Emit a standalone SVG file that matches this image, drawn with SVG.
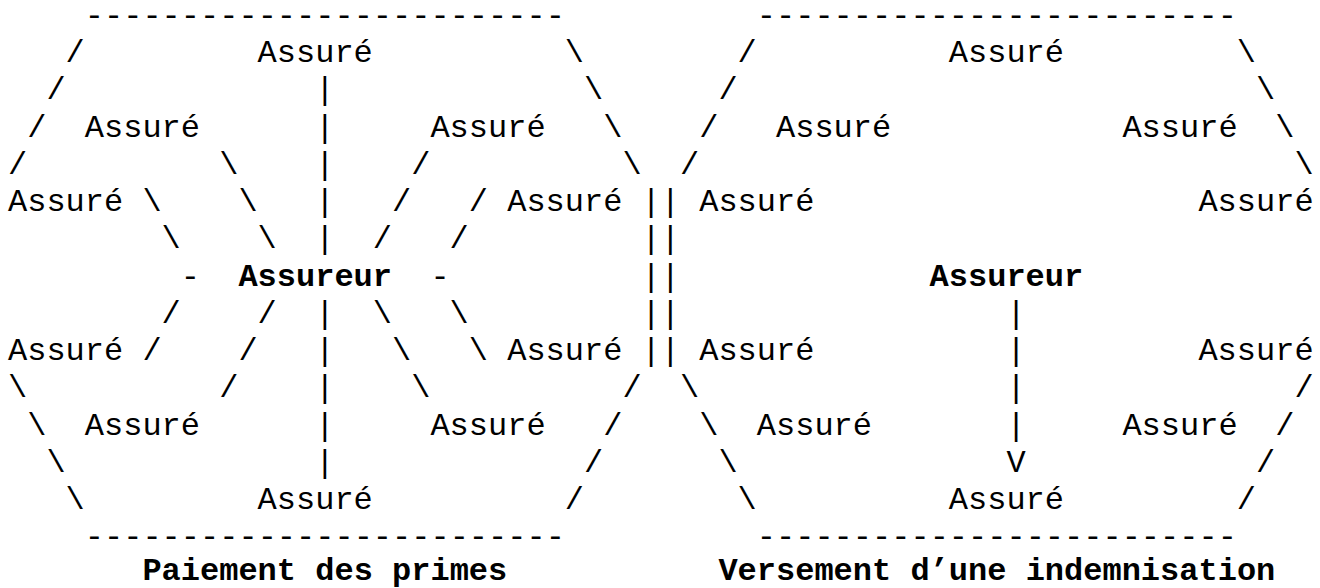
<svg xmlns="http://www.w3.org/2000/svg" width="1320" height="588" viewBox="0 0 1320 588">
  <style>
    text { font-family: "Courier New", "Nimbus Mono PS", "Nimbus Mono L", FreeMono, Courier, "Liberation Mono", monospace; font-size: 32px; fill: #000; }
    .b { font-weight: bold; }
  </style>
  <rect width="1320" height="588" fill="#fff"/>

  <!-- Monospace grid: x = 8 + 19.2*col, baseline y = 24.75 + 37.25*(row-1) -->

  <!-- Left panel: premium payments, every insured paying the insurer -->
  <g id="pay-insurer"><text class="b" x="238.4" y="285.5">Assureur</text></g>
  <g id="pay-top"><text x="257.6" y="62">Assuré</text></g>
  <g id="pay-upper-left"><text x="84.8" y="136.5">Assuré</text></g>
  <g id="pay-upper-right"><text x="430.4" y="136.5">Assuré</text></g>
  <g id="pay-mid-left-top"><text x="8" y="211">Assuré</text></g>
  <g id="pay-mid-right-top"><text x="507.2" y="211">Assuré</text></g>
  <g id="pay-mid-left-bottom"><text x="8" y="360">Assuré</text></g>
  <g id="pay-mid-right-bottom"><text x="507.2" y="360">Assuré</text></g>
  <g id="pay-lower-left"><text x="84.8" y="434.5">Assuré</text></g>
  <g id="pay-lower-right"><text x="430.4" y="434.5">Assuré</text></g>
  <g id="pay-bottom"><text x="257.6" y="509">Assuré</text></g>

  <!-- Right panel: a claim paid out to one insured -->
  <g id="claim-insurer"><text class="b" x="929.6" y="285.5">Assureur</text></g>
  <g id="claim-top"><text x="948.8" y="62">Assuré</text></g>
  <g id="claim-upper-left"><text x="776" y="136.5">Assuré</text></g>
  <g id="claim-upper-right"><text x="1122.4" y="136.5">Assuré</text></g>
  <g id="claim-mid-left-top"><text x="699.2" y="211">Assuré</text></g>
  <g id="claim-mid-right-top"><text x="1198.4" y="211">Assuré</text></g>
  <g id="claim-mid-left-bottom"><text x="699.2" y="360">Assuré</text></g>
  <g id="claim-mid-right-bottom"><text x="1198.4" y="360">Assuré</text></g>
  <g id="claim-lower-left"><text x="756.8" y="434.5">Assuré</text></g>
  <g id="claim-lower-right"><text x="1122.4" y="434.5">Assuré</text></g>
  <g id="claim-bottom"><text x="948.8" y="509">Assuré</text></g>

  <!-- Hexagon outlines and the double bar between them -->
  <g id="frames">
    <text x="84.8" y="24.75">-------------------------</text>
    <text x="756.8" y="24.75">-------------------------</text>
    <text x="84.8" y="546.25">-------------------------</text>
    <text x="756.8" y="546.25">-------------------------</text>
    <!-- left hexagon sides -->
    <text x="65.6" y="62">/</text>
    <text x="46.4" y="99.25">/</text>
    <text x="27.2" y="136.5">/</text>
    <text x="8" y="173.75">/</text>
    <text x="8" y="397.25">\</text>
    <text x="27.2" y="434.5">\</text>
    <text x="46.4" y="471.75">\</text>
    <text x="65.6" y="509">\</text>
    <text x="564.8" y="62">\</text>
    <text x="584" y="99.25">\</text>
    <text x="603.2" y="136.5">\</text>
    <text x="622.4" y="173.75">\</text>
    <text x="622.4" y="397.25">/</text>
    <text x="603.2" y="434.5">/</text>
    <text x="584" y="471.75">/</text>
    <text x="564.8" y="509">/</text>
    <!-- right hexagon sides -->
    <text x="737.6" y="62">/</text>
    <text x="718.4" y="99.25">/</text>
    <text x="699.2" y="136.5">/</text>
    <text x="680" y="173.75">/</text>
    <text x="680" y="397.25">\</text>
    <text x="699.2" y="434.5">\</text>
    <text x="718.4" y="471.75">\</text>
    <text x="737.6" y="509">\</text>
    <text x="1236.8" y="62">\</text>
    <text x="1256" y="99.25">\</text>
    <text x="1275.2" y="136.5">\</text>
    <text x="1294.4" y="173.75">\</text>
    <text x="1294.4" y="397.25">/</text>
    <text x="1275.2" y="434.5">/</text>
    <text x="1256" y="471.75">/</text>
    <text x="1236.8" y="509">/</text>
    <!-- divider -->
    <text x="641.6" y="211">||</text>
    <text x="641.6" y="248.25">||</text>
    <text x="641.6" y="285.5">||</text>
    <text x="641.6" y="322.75">||</text>
    <text x="641.6" y="360">||</text>
  </g>

  <!-- Spokes between insurer and insured -->
  <g id="connectors">
    <!-- left panel: vertical spoke -->
    <text x="315.2" y="99.25">|</text>
    <text x="315.2" y="136.5">|</text>
    <text x="315.2" y="173.75">|</text>
    <text x="315.2" y="211">|</text>
    <text x="315.2" y="248.25">|</text>
    <text x="315.2" y="322.75">|</text>
    <text x="315.2" y="360">|</text>
    <text x="315.2" y="397.25">|</text>
    <text x="315.2" y="434.5">|</text>
    <text x="315.2" y="471.75">|</text>
    <!-- left panel: upper-left spoke -->
    <text x="219.2" y="173.75">\</text>
    <text x="238.4" y="211">\</text>
    <text x="257.6" y="248.25">\</text>
    <!-- left panel: mid-left-top spoke -->
    <text x="142.4" y="211">\</text>
    <text x="161.6" y="248.25">\</text>
    <!-- left panel: upper-right spoke -->
    <text x="411.2" y="173.75">/</text>
    <text x="392" y="211">/</text>
    <text x="372.8" y="248.25">/</text>
    <!-- left panel: mid-right-top spoke -->
    <text x="468.8" y="211">/</text>
    <text x="449.6" y="248.25">/</text>
    <!-- left panel: horizontal stubs -->
    <text x="180.8" y="285.5">-</text>
    <text x="430.4" y="285.5">-</text>
    <!-- left panel: lower spokes -->
    <text x="161.6" y="322.75">/</text>
    <text x="142.4" y="360">/</text>
    <text x="257.6" y="322.75">/</text>
    <text x="238.4" y="360">/</text>
    <text x="219.2" y="397.25">/</text>
    <text x="372.8" y="322.75">\</text>
    <text x="392" y="360">\</text>
    <text x="411.2" y="397.25">\</text>
    <text x="449.6" y="322.75">\</text>
    <text x="468.8" y="360">\</text>
    <!-- right panel: payout arrow -->
    <text x="1006.4" y="322.75">|</text>
    <text x="1006.4" y="360">|</text>
    <text x="1006.4" y="397.25">|</text>
    <text x="1006.4" y="434.5">|</text>
    <text x="1006.4" y="471.75">V</text>
  </g>

  <!-- Captions -->
  <g id="captions">
    <text class="b" x="142.4" y="580">Paiement des primes</text>
    <text class="b" x="718.4" y="580">Versement d’une indemnisation</text>
  </g>
</svg>
